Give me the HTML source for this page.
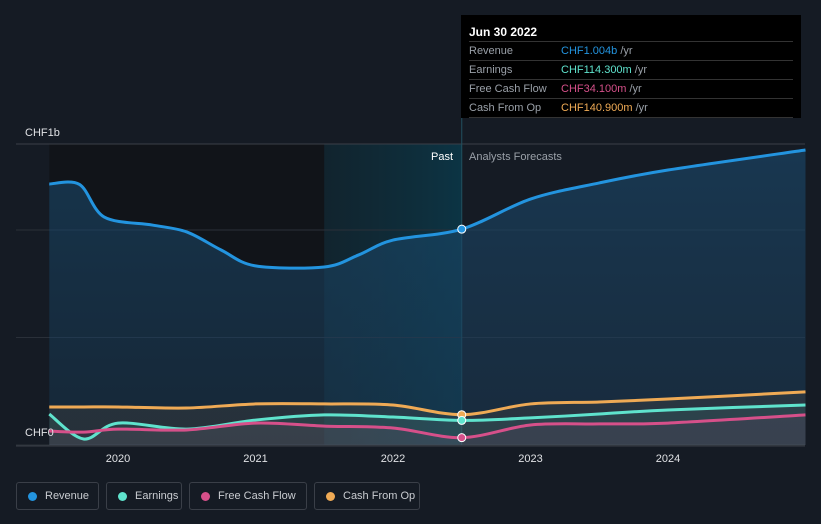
<!DOCTYPE html>
<html><head><meta charset="utf-8"><style>
html,body{margin:0;background:#151b24;width:821px;height:524px;overflow:hidden;font-family:"Liberation Sans",sans-serif}
.leg{position:absolute;top:482px;height:28px;border:1px solid #3a3f48;border-radius:3px;color:#c9ccd1;font-size:11px;line-height:26px;box-sizing:border-box;padding-left:28px;white-space:nowrap}
.leg i{position:absolute;left:11px;top:9px;width:9px;height:9px;border-radius:50%}
</style></head><body>
<svg id="chart" width="821" height="524" style="position:absolute;left:0;top:0">
<defs>
<linearGradient id="teal" x1="0" x2="1" y1="0" y2="0"><stop offset="0" stop-color="#0f2a35" stop-opacity="0.6"/><stop offset="1" stop-color="#0c3444"/></linearGradient>
<linearGradient id="revfill" x1="0" x2="0" y1="0" y2="1"><stop offset="0" stop-color="#1a4a6e" stop-opacity="0.6"/><stop offset="1" stop-color="#1a3a55" stop-opacity="0.5"/></linearGradient>
</defs>
<g id="bg"></g><g id="grid"></g><g id="areas"></g><g id="lines"></g><g id="pts"></g><g id="axis"></g>
</svg>
<div style="position:absolute;left:461px;top:15px;width:340px;height:103px;background:#000">
<div style="position:absolute;left:8px;top:10px;color:#fff;font-size:12px;font-weight:bold">Jun 30 2022</div>
<div style="position:absolute;left:8px;top:26px;width:324px;font-size:11px;color:#9aa0a8;line-height:18px">
<div style="border-top:1px solid #333;position:relative">Revenue<span style="position:absolute;left:92px"><b style="font-weight:normal;color:#2394df">CHF1.004b</b> /yr</span></div>
<div style="border-top:1px solid #333;position:relative">Earnings<span style="position:absolute;left:92px"><b style="font-weight:normal;color:#5fe3cd">CHF114.300m</b> /yr</span></div>
<div style="border-top:1px solid #333;position:relative">Free Cash Flow<span style="position:absolute;left:92px"><b style="font-weight:normal;color:#d6508a">CHF34.100m</b> /yr</span></div>
<div style="border-top:1px solid #333;border-bottom:1px solid #333;position:relative">Cash From Op<span style="position:absolute;left:92px"><b style="font-weight:normal;color:#efaa55">CHF140.900m</b> /yr</span></div>
</div></div>
<div class="leg" style="left:16px;width:83px"><i style="background:#2394df"></i>Revenue</div>
<div class="leg" style="left:106px;width:76px"><i style="background:#5fe3cd"></i>Earnings</div>
<div class="leg" style="left:189px;width:118px"><i style="background:#d6508a"></i>Free Cash Flow</div>
<div class="leg" style="left:314px;width:106px"><i style="background:#efaa55"></i>Cash From Op</div>
<script>
const dates=[2019.5,2019.72,2019.9,2020.25,2020.5,2020.75,2021,2021.5,2021.75,2022,2022.5,2023,2023.5,2024,2025];
const revenue=[1214,1212,1060,1023,991,907,833,828,884,953,1004,1144,1219,1279,1372];
const eDates=[2019.5,2019.75,2020,2020.5,2021,2021.5,2022,2022.5,2023,2023.5,2024,2025];
const earnings=[144,28,102,74,116,140,130,114.3,126,144,163,186];
const fcf=[65,60,74,70,102,88,79,34.1,93,98,102,140];
const cfo=[177,177,177,172,191,191,186,140.9,191,200,214,247];
const xTicks=[2020,2021,2022,2023,2024];
const yGrid=[0,500,1000,1400];
const NS='http://www.w3.org/2000/svg';
const x=d=>118+(d-2020)*137.5;
const y=v=>445-v*0.215;
function mk(p,t,a){const e=document.createElementNS(NS,t);for(const k in a)e.setAttribute(k,a[k]);document.getElementById(p).appendChild(e);return e;}
function path(xs,vs){const P=xs.map((d,i)=>[x(d),y(vs[i])]);let s='M'+P[0][0]+','+P[0][1];
for(let i=0;i<P.length-1;i++){const p0=P[Math.max(0,i-1)],p1=P[i],p2=P[i+1],p3=P[Math.min(P.length-1,i+2)];
const t=0.16;s+=` C${p1[0]+(p2[0]-p0[0])*t},${p1[1]+(p2[1]-p0[1])*t} ${p2[0]-(p3[0]-p1[0])*t},${p2[1]-(p3[1]-p1[1])*t} ${p2[0]},${p2[1]}`;}return s;}
let r=mk('bg','rect',{x:x(2019.5),y:y(1400),width:x(2021.5)-x(2019.5),height:y(0)-y(1400),fill:'#111419'});

r=mk('bg','rect',{x:x(2021.5),y:y(1400),width:x(2022.5)-x(2021.5),height:y(0)-y(1400),fill:'url(#teal)'});

yGrid.forEach(v=>{const l=mk('grid','line',{x1:16,x2:805,y1:y(v),y2:y(v),stroke:v==1400?'#3a3f48':'#2a3039','stroke-width':1});
});
const vl=mk('grid','line',{x1:x(2022.5),x2:x(2022.5),y1:15,y2:y(0),stroke:'#22505e','stroke-width':1});

const series=[[dates,revenue,'#2394df','revenue'],[eDates,cfo,'#efaa55','cash-from-op'],[eDates,earnings,'#5fe3cd','earnings'],[eDates,fcf,'#d6508a','free-cash-flow']];
series.forEach(([xs,vs,c,n],i)=>{const d=path(xs,vs);
const a=mk('areas','path',{d:d+` L${x(xs[xs.length-1])},${y(0)} L${x(xs[0])},${y(0)} Z`,fill:i==0?'url(#revfill)':c,'fill-opacity':i==0?1:0.08});

const l=mk('lines','path',{d:d,fill:'none',stroke:c,'stroke-width':3});

const k=xs.indexOf(2022.5);const p=mk('pts','circle',{cx:x(2022.5),cy:y(vs[k]),r:4,fill:c,stroke:'#fff','stroke-width':1});
});
const ax=mk('axis','line',{x1:16,x2:805,y1:y(0)+1,y2:y(0)+1,stroke:'#3a3f48'});

xTicks.forEach(t=>{const e=mk('axis','text',{x:x(t),y:462,fill:'#e0e2e5','font-size':11,'text-anchor':'middle','font-family':'Liberation Sans'});e.textContent=t;
});
[['CHF1b',25,136,'#e0e2e5','y-label-top'],['CHF0',25,436,'#e0e2e5','y-label-zero'],['Past',453,160,'#fff','past-label'],['Analysts Forecasts',469,160,'#9aa0a8','forecast-label']].forEach(([t,xx,yy,c,n])=>{
const e=mk('axis','text',{x:xx,y:yy,fill:c,'font-size':11,'text-anchor':n=='past-label'?'end':'start','font-family':'Liberation Sans'});e.textContent=t;
});
</script>
</body></html>
